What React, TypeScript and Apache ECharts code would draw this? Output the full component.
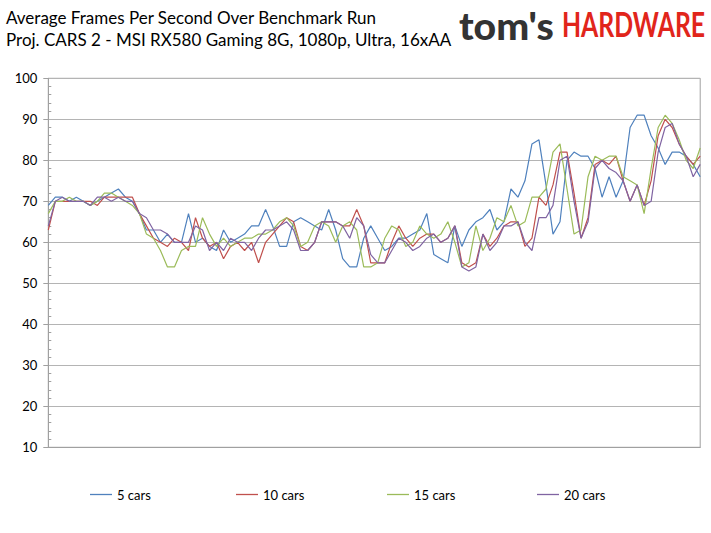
import React, { useEffect, useRef } from "react";
import * as echarts from "echarts";

const seriesNames = ["5 cars", "10 cars", "15 cars", "20 cars"];
const seriesColors = ["#4F81BD", "#C0504D", "#9BBB59", "#8064A2"];

const cars5 = [
  69, 71, 71, 70, 71, 70, 69, 70, 71, 72, 73, 71, 70, 67, 63, 63, 60, 62, 60, 60,
  67, 60, 61, 59, 58, 63, 60, 61, 62, 64, 64, 68, 64, 59, 59, 65, 66, 65, 64, 63,
  68, 63, 56, 54, 54, 61, 64, 61, 58, 59, 61, 61, 62, 63, 67, 57, 56, 55, 64, 59,
  63, 65, 66, 68, 63, 65, 73, 71, 75, 84, 85, 74, 62, 65, 80, 82, 81, 81, 78, 71,
  76, 71, 75, 88, 91, 91, 86, 83, 79, 82, 82, 81, 79, 76,
];
const cars10 = [
  63, 70, 70, 70, 70, 70, 70, 69, 71, 71, 71, 71, 71, 67, 64, 61, 60, 59, 61, 60,
  58, 66, 61, 59, 60, 56, 59, 60, 58, 60, 55, 60, 62, 64, 66, 65, 59, 58, 60, 65,
  65, 65, 64, 64, 68, 64, 55, 55, 55, 60, 64, 61, 59, 61, 62, 62, 60, 61, 64, 55,
  54, 55, 62, 59, 61, 64, 65, 65, 59, 61, 71, 69, 74, 82, 82, 72, 61, 66, 79, 80,
  79, 81, 75, 70, 74, 69, 75, 86, 90, 88, 84, 81, 79, 81,
];
const cars15 = [
  67, 70, 70, 71, 70, 70, 69, 70, 72, 72, 71, 70, 69, 67, 62, 61, 58, 54, 54, 58,
  59, 59, 66, 62, 59, 61, 59, 60, 61, 61, 62, 62, 63, 65, 66, 64, 59, 60, 64, 65,
  64, 60, 64, 65, 63, 54, 54, 55, 61, 64, 63, 59, 60, 64, 62, 61, 62, 65, 60, 54,
  55, 64, 58, 61, 66, 65, 69, 64, 65, 71, 71, 73, 82, 84, 73, 62, 63, 76, 81, 80,
  81, 81, 76, 75, 74, 67, 78, 88, 91, 89, 85, 80, 78, 83,
];
const cars20 = [
  64, 70, 71, 70, 70, 70, 69, 71, 71, 70, 71, 70, 70, 67, 66, 63, 63, 62, 60, 60,
  60, 64, 63, 58, 60, 58, 61, 60, 60, 58, 61, 63, 63, 64, 65, 63, 58, 58, 60, 65,
  65, 65, 64, 61, 66, 64, 57, 55, 55, 58, 61, 60, 58, 59, 61, 62, 60, 61, 64, 54,
  53, 54, 62, 58, 60, 64, 64, 65, 60, 58, 66, 66, 69, 80, 81, 70, 61, 65, 78, 80,
  78, 77, 75, 70, 74, 69, 70, 82, 88, 89, 84, 81, 76, 79,
];
const seriesValues = [cars5, cars10, cars15, cars20];
const categories = cars5.map((_, i) => String(i + 1));

const titleLines = [
  "Average Frames Per Second Over Benchmark Run",
  "Proj. CARS 2 - MSI RX580 Gaming 8G, 1080p, Ultra, 16xAA",
];
const yMin = 10;
const yMax = 100;
const yStep = 10;
const legendLefts = [90, 236, 387, 537];

const FONT = "Lato, 'Liberation Sans', sans-serif";
const GRID_GRAY = "#b4b4b4";
const AXIS_GRAY = "#a0a0a0";

export default function App() {
  const ref = useRef<HTMLDivElement>(null);
  useEffect(() => {
    if (!ref.current) return;
    const chart = echarts.init(ref.current, undefined, { renderer: "svg" });
    chart.setOption({
      animation: false,
      backgroundColor: "#ffffff",
      title: {
        text: titleLines.join("\n"),
        left: 1,
        top: 1,
        textStyle: {
          fontFamily: FONT,
          fontSize: 17,
          fontWeight: "normal",
          color: "#000",
          lineHeight: 22,
        },
      },
      graphic: [
        {
          type: "text",
          x: 459,
          y: 44,
          scaleX: 1.03,
          style: {
            text: "tom's",
            font: "900 38px Lato, sans-serif",
            fill: "#333333",
            textAlign: "left",
            textVerticalAlign: "bottom",
          },
        },
        {
          type: "text",
          x: 562,
          y: 41,
          scaleX: 0.73,
          style: {
            text: "HARDWARE",
            font: "bold 34px Lato, sans-serif",
            fill: "#E1251B",
            textAlign: "left",
            textVerticalAlign: "bottom",
          },
        },
      ],
      legend: seriesNames.map((n, k) => ({
        data: [n],
        left: legendLefts[k],
        top: 488,
        padding: 0,
        icon: "rect",
        itemWidth: 22,
        itemHeight: 1.3,
        textStyle: { fontFamily: FONT, fontSize: 13, color: "#000" },
      })),
      grid: {
        left: 48.3,
        right: 10.8,
        top: 78.3,
        bottom: 85.7,
        show: true,
        borderColor: AXIS_GRAY,
        borderWidth: 1,
        backgroundColor: "transparent",
      },
      xAxis: {
        type: "category",
        data: categories,
        boundaryGap: false,
        axisLine: { show: true, lineStyle: { color: AXIS_GRAY } },
        axisTick: { show: false },
        axisLabel: { show: false },
        splitLine: { show: false },
      },
      yAxis: [
        {
          type: "value",
          min: yMin,
          max: yMax,
          interval: yStep,
          axisLine: { show: true, lineStyle: { color: AXIS_GRAY } },
          axisTick: { show: true, length: 5, lineStyle: { color: AXIS_GRAY } },
          axisLabel: {
            margin: 11,
            fontFamily: FONT,
            fontSize: 13,
            color: "#000",
          },
          splitLine: { show: true, lineStyle: { color: GRID_GRAY, width: 1 } },
        },
        {
          type: "value",
          min: yMin,
          max: yMax,
          interval: yStep,
          position: "left",
          axisLine: { show: false },
          axisTick: { show: false, inside: true },
          minorTick: {
            show: true,
            splitNumber: 5,
            length: 3,
            lineStyle: { color: AXIS_GRAY },
          },
          axisLabel: { show: false },
          splitLine: { show: false },
        },
      ],
      series: seriesNames.map((n, k) => ({
        name: n,
        type: "line",
        data: seriesValues[k],
        symbol: "none",
        showSymbol: false,
        smooth: false,
        color: seriesColors[k],
        lineStyle: { width: 1.2, color: seriesColors[k] },
      })),
    });
    return () => chart.dispose();
  }, []);
  return (
    <div
      ref={ref}
      style={{
        position: "fixed",
        left: 0,
        top: 0,
        width: 711,
        height: 533,
        background: "#fff",
      }}
    />
  );
}
